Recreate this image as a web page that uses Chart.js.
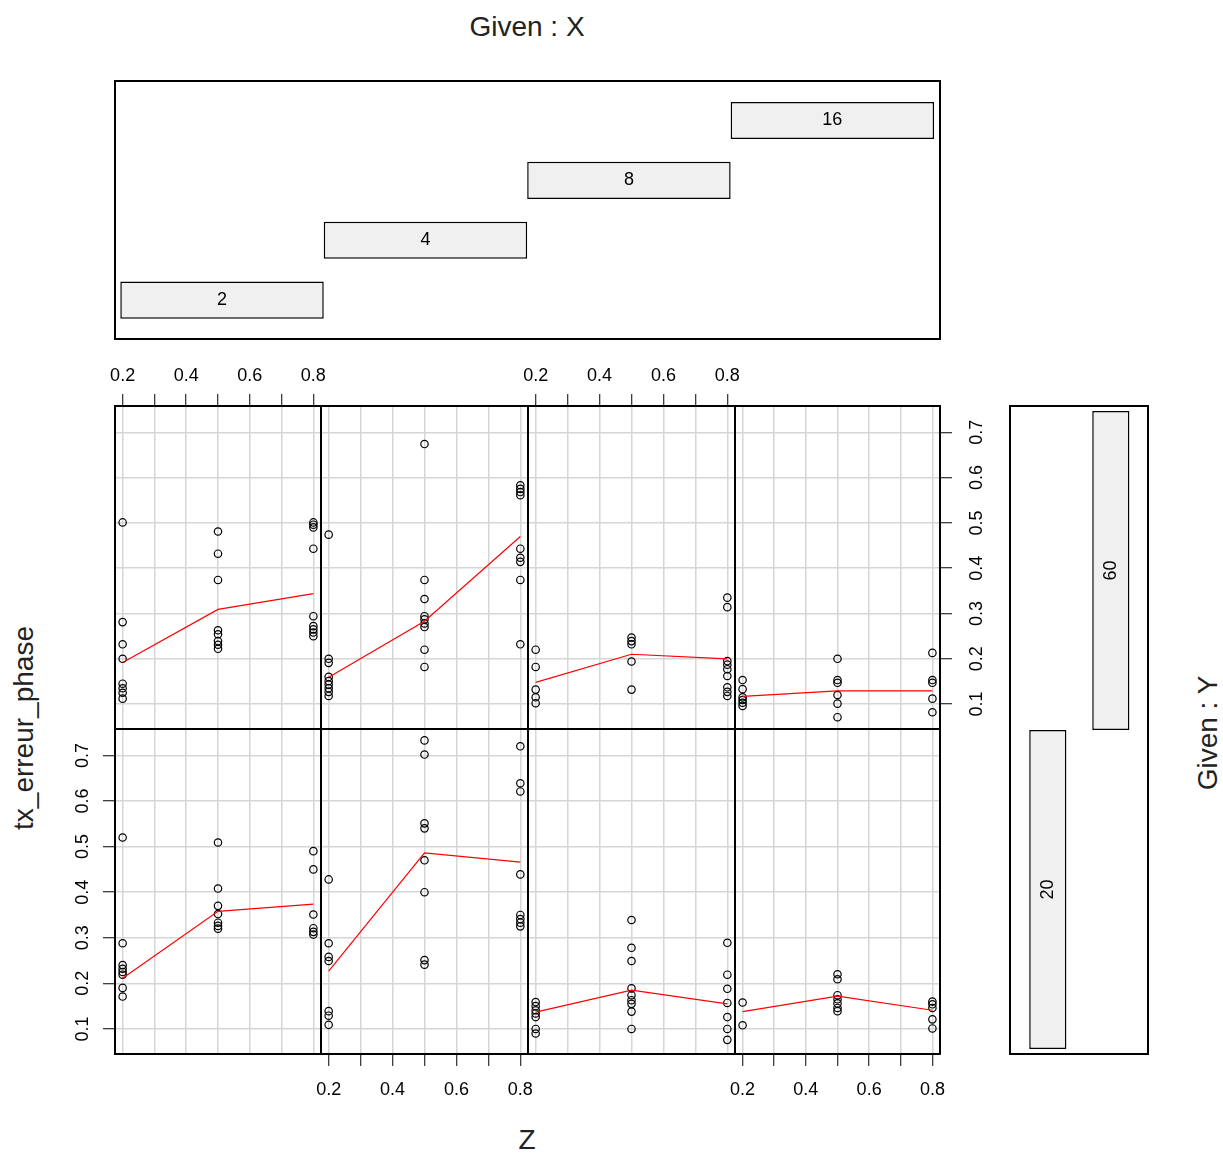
<!DOCTYPE html>
<html>
<head>
<meta charset="utf-8">
<title>coplot tx_erreur_phase ~ Z | X * Y</title>
<script src="https://cdn.jsdelivr.net/npm/chart.js@4.4.1/dist/chart.umd.min.js"></script>
<style>
  body { margin: 0; background: #fff; }
  #wrap { position: relative; width: 1223px; height: 1154px; overflow: hidden;
          font-family: "Liberation Sans", Arial, sans-serif; }
  #wrap canvas { position: absolute; }
  .lab { position: absolute; width: 400px; height: 32px; line-height: 32px; font-size: 28px;
         text-align: center; color: #222; white-space: nowrap; }
  .rot { transform: rotate(-90deg); }
</style>
</head>
<body>
<div id="wrap">
  <div class="lab" style="left:327px;top:11px">Given : X</div>
  <div class="lab" style="left:327px;top:1124px">Z</div>
  <div class="lab rot" style="left:-176px;top:712px">tx_erreur_phase</div>
  <div class="lab rot" style="left:1008px;top:717px">Given : Y</div>
</div>
<script>
// Z values used in every panel, and axis ticks
const zLevels = [0.2, 0.5, 0.8];
const zTicks = [0.2, 0.3, 0.4, 0.5, 0.6, 0.7, 0.8];
const zTickLabels = ['0.2', '', '0.4', '', '0.6', '', '0.8'];
const errTicks = [0.1, 0.2, 0.3, 0.4, 0.5, 0.6, 0.7];
const errTickLabels = ['0.1', '0.2', '0.3', '0.4', '0.5', '0.6', '0.7'];

// conditioning variables (factor levels and their intervals)
const xLevels = ['2', '4', '8', '16'];
const xLow = [0.5, 1.5, 2.5, 3.5];
const xHigh = [1.5, 2.5, 3.5, 4.5];
const yLevels = ['20', '60'];
const yLow = [0.5, 1.5];
const yHigh = [1.5, 2.5];

// tx_erreur_phase per panel, grouped by Z = 0.2, 0.5, 0.8
const err_x2_y60 = [
  [0.501, 0.281, 0.232, 0.200, 0.145, 0.135, 0.125, 0.112],
  [0.481, 0.432, 0.374, 0.263, 0.254, 0.239, 0.231, 0.222],
  [0.501, 0.496, 0.490, 0.443, 0.294, 0.272, 0.265, 0.258, 0.250]
];
const err_x4_y60 = [
  [0.474, 0.200, 0.191, 0.160, 0.151, 0.143, 0.135, 0.127, 0.118],
  [0.674, 0.374, 0.332, 0.294, 0.287, 0.278, 0.270, 0.220, 0.182],
  [0.583, 0.575, 0.568, 0.561, 0.443, 0.423, 0.414, 0.374, 0.232]
];
const err_x8_y60 = [
  [0.220, 0.182, 0.132, 0.115, 0.102],
  [0.247, 0.239, 0.232, 0.194, 0.132],
  [0.335, 0.314, 0.195, 0.187, 0.177, 0.162, 0.137, 0.127, 0.118]
];
const err_x16_y60 = [
  [0.153, 0.133, 0.115, 0.109, 0.103, 0.096],
  [0.200, 0.153, 0.147, 0.120, 0.101, 0.071],
  [0.213, 0.153, 0.147, 0.112, 0.082]
];
const err_x2_y20 = [
  [0.520, 0.288, 0.240, 0.232, 0.225, 0.219, 0.190, 0.171],
  [0.509, 0.408, 0.370, 0.352, 0.333, 0.326, 0.320],
  [0.490, 0.450, 0.351, 0.321, 0.313, 0.307]
];
const err_x4_y20 = [
  [0.428, 0.288, 0.258, 0.249, 0.139, 0.129, 0.109],
  [0.733, 0.702, 0.551, 0.540, 0.470, 0.400, 0.251, 0.241],
  [0.720, 0.639, 0.621, 0.439, 0.350, 0.341, 0.333, 0.325]
];
const err_x8_y20 = [
  [0.159, 0.150, 0.141, 0.134, 0.126, 0.100, 0.090],
  [0.339, 0.278, 0.249, 0.189, 0.174, 0.163, 0.155, 0.138, 0.100],
  [0.289, 0.219, 0.188, 0.157, 0.126, 0.100, 0.076]
];
const err_x16_y20 = [
  [0.158, 0.108],
  [0.220, 0.209, 0.174, 0.165, 0.156, 0.146, 0.139],
  [0.160, 0.154, 0.146, 0.121, 0.101]
];

// smoother (red line) at Z = 0.2, 0.5, 0.8
const fit_x2_y60 = [0.192, 0.309, 0.344];
const fit_x4_y60 = [0.159, 0.283, 0.470];
const fit_x8_y60 = [0.148, 0.210, 0.200];
const fit_x16_y60 = [0.117, 0.129, 0.129];
const fit_x2_y20 = [0.211, 0.358, 0.374];
const fit_x4_y20 = [0.227, 0.486, 0.466];
const fit_x8_y20 = [0.137, 0.185, 0.155];
const fit_x16_y20 = [0.138, 0.172, 0.141];

// row 0 = Y 60 (top), row 1 = Y 20 (bottom); col = X level
const panels = [
  { err: err_x2_y60, fit: fit_x2_y60, col: 0, row: 0 },
  { err: err_x4_y60, fit: fit_x4_y60, col: 1, row: 0 },
  { err: err_x8_y60, fit: fit_x8_y60, col: 2, row: 0 },
  { err: err_x16_y60, fit: fit_x16_y60, col: 3, row: 0 },
  { err: err_x2_y20, fit: fit_x2_y20, col: 0, row: 1 },
  { err: err_x4_y20, fit: fit_x4_y20, col: 1, row: 1 },
  { err: err_x8_y20, fit: fit_x8_y20, col: 2, row: 1 },
  { err: err_x16_y20, fit: fit_x16_y20, col: 3, row: 1 }
];

// layout
const COLS = [115, 321, 528, 735, 940];
const ROWS = [406, 729, 1054];
const GX = { left: 115, right: 940, top: 81, bottom: 339 };
const GY = { left: 1010, right: 1148, top: 406, bottom: 1054 };
const M = 70;   // room for axes around a panel
const G = 10;
const Z_MIN = 0.176, Z_MAX = 0.824;
const E_MIN = 0.045, E_MAX = 0.758;
const TICK_LEN = 12;
const GRID = '#d6d6d6';
const FAMILY = '"Liberation Sans", Arial, sans-serif';
const TICK_FONT = { family: FAMILY, size: 18 };
const BAR_FILL = '#f0f0f0';

Chart.defaults.font.family = FAMILY;
Chart.defaults.color = '#000';

function makeCanvas(left, top, w, h) {
  const c = document.createElement('canvas');
  c.width = w;
  c.height = h;
  c.style.left = left + 'px';
  c.style.top = top + 'px';
  c.style.width = w + 'px';
  c.style.height = h + 'px';
  document.getElementById('wrap').appendChild(c);
  return c.getContext('2d');
}

function zAxis(position, show, onArea) {
  return {
    type: 'linear', position: position, min: Z_MIN, max: Z_MAX,
    afterBuildTicks: s => { s.ticks = zTicks.map(v => ({ value: v })); },
    afterFit: s => { s.height = M; },
    grid: { display: onArea || show, drawOnChartArea: onArea, color: GRID, lineWidth: 1.5,
            drawTicks: show, tickLength: TICK_LEN, tickColor: '#000', tickWidth: 1 },
    border: { display: true, color: '#000', width: 2 },
    ticks: { display: show, autoSkip: false, minRotation: 0, maxRotation: 0,
             padding: position === 'top' ? 7 : 13, color: '#000', font: TICK_FONT,
             callback: (v, i) => zTickLabels[i] }
  };
}

function errAxis(position, show, onArea) {
  return {
    type: 'linear', position: position, min: E_MIN, max: E_MAX,
    afterBuildTicks: s => { s.ticks = errTicks.map(v => ({ value: v })); },
    afterFit: s => { s.width = M; },
    grid: { display: onArea || show, drawOnChartArea: onArea, color: GRID, lineWidth: 1.5,
            drawTicks: show, tickLength: TICK_LEN, tickColor: '#000', tickWidth: 1 },
    border: { display: true, color: '#000', width: 2 },
    ticks: { display: show, autoSkip: false, minRotation: 90, maxRotation: 90, crossAlign: 'center',
             padding: position === 'left' ? 7.5 : 13, color: '#000', font: TICK_FONT,
             callback: (v, i) => errTickLabels[i] }
  };
}

function drawPanel(p) {
  const left = COLS[p.col], right = COLS[p.col + 1];
  const top = ROWS[p.row], bottom = ROWS[p.row + 1];
  const ctx = makeCanvas(left - M, top - M, right - left + 2 * M, bottom - top + 2 * M);
  const showTop = p.row === 0 && p.col % 2 === 0;
  const showBottom = p.row === 1 && p.col % 2 === 1;
  const showLeft = p.row === 1 && p.col === 0;
  const showRight = p.row === 0 && p.col === 3;

  const points = [];
  p.err.forEach((vals, i) => vals.forEach(v => points.push({ x: zLevels[i], y: v })));

  new Chart(ctx, {
    type: 'scatter',
    data: {
      datasets: [{
        data: zLevels.map((z, i) => ({ x: z, y: p.fit[i] })),
        showLine: true, borderColor: '#ff0000', borderWidth: 1.2, pointRadius: 0, tension: 0
      }, {
        data: points,
        pointRadius: 3.7, pointBorderWidth: 1.2,
        borderColor: '#000', backgroundColor: 'rgba(0,0,0,0)'
      }]
    },
    options: {
      responsive: false, animation: false, events: [], devicePixelRatio: 1,
      plugins: { legend: { display: false }, tooltip: { enabled: false } },
      scales: {
        x: zAxis('bottom', showBottom, true),
        xt: zAxis('top', showTop, false),
        y: errAxis('left', showLeft, true),
        yr: errAxis('right', showRight, false)
      }
    }
  });
}

// hidden axis that only gives the box edge
function frame(position, min, max, tickVals) {
  const horizontal = position === 'top' || position === 'bottom';
  const ax = {
    type: 'linear', position: position, min: min, max: max, offset: false,
    afterFit: s => { if (horizontal) s.height = G; else s.width = G; },
    grid: { display: false },
    border: { display: true, color: '#000', width: 2 },
    ticks: { display: false }
  };
  if (tickVals) ax.afterBuildTicks = s => { s.ticks = tickVals.map(v => ({ value: v })); };
  return ax;
}

// writes the level inside each bar
const barText = {
  id: 'barText',
  afterDatasetsDraw(chart, args, opts) {
    const ctx = chart.ctx;
    const meta = chart.getDatasetMeta(0);
    ctx.save();
    ctx.font = opts.size + 'px ' + FAMILY;
    ctx.fillStyle = '#000';
    ctx.textAlign = 'center';
    ctx.textBaseline = 'middle';
    meta.data.forEach((bar, i) => {
      const c = bar.getCenterPoint();
      ctx.save();
      ctx.translate(c.x, c.y);
      ctx.rotate(opts.rotation);
      ctx.fillText(opts.labels[i], 0, 0);
      ctx.restore();
    });
    ctx.restore();
  }
};

function drawGivenX() {
  const ctx = makeCanvas(GX.left - G, GX.top - G, GX.right - GX.left + 2 * G, GX.bottom - GX.top + 2 * G);
  new Chart(ctx, {
    type: 'bar',
    data: {
      datasets: [{
        data: xLevels.map((l, i) => ({ x: [xLow[i], xHigh[i]], y: i + 1 })),
        backgroundColor: BAR_FILL, borderColor: '#000', borderWidth: 1.5, borderSkipped: false,
        barPercentage: 0.62, categoryPercentage: 1
      }]
    },
    options: {
      indexAxis: 'y', responsive: false, animation: false, events: [], devicePixelRatio: 1,
      plugins: { legend: { display: false }, tooltip: { enabled: false },
                 barText: { labels: xLevels, rotation: 0, size: 18 } },
      scales: {
        x: frame('bottom', 0.474, 4.529),
        x2: frame('top', 0.474, 4.529),
        y: frame('left', 0.35, 4.66, xLevels.map((l, i) => i + 1)),
        y2: frame('right', 0.35, 4.66)
      }
    },
    plugins: [barText]
  });
}

function drawGivenY() {
  const ctx = makeCanvas(GY.left - G, GY.top - G, GY.right - GY.left + 2 * G, GY.bottom - GY.top + 2 * G);
  new Chart(ctx, {
    type: 'bar',
    data: {
      datasets: [{
        data: yLevels.map((l, i) => ({ x: i + 1, y: [yLow[i], yHigh[i]] })),
        backgroundColor: BAR_FILL, borderColor: '#000', borderWidth: 1.5, borderSkipped: false,
        barPercentage: 0.59, categoryPercentage: 1
      }]
    },
    options: {
      indexAxis: 'x', responsive: false, animation: false, events: [], devicePixelRatio: 1,
      plugins: { legend: { display: false }, tooltip: { enabled: false },
                 barText: { labels: yLevels, rotation: -Math.PI / 2, size: 18 } },
      scales: {
        x: frame('bottom', 0.4, 2.59, yLevels.map((l, i) => i + 1)),
        x2: frame('top', 0.4, 2.59),
        y: frame('left', 0.484, 2.516),
        y2: frame('right', 0.484, 2.516)
      }
    },
    plugins: [barText]
  });
}

drawGivenX();
drawGivenY();
panels.forEach(drawPanel);
</script>
</body>
</html>
